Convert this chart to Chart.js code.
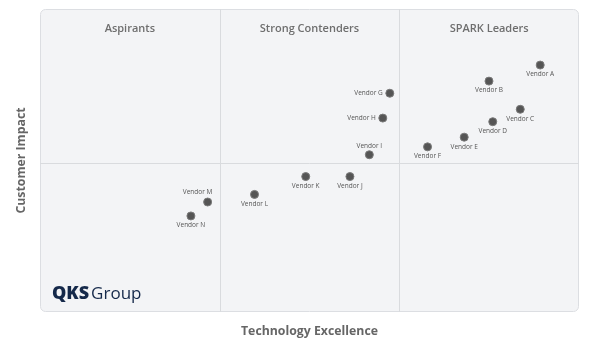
<!DOCTYPE html>
<html>
<head>
<meta charset="utf-8">
<script src="https://cdn.jsdelivr.net/npm/chart.js@4"></script>
<style>
  html, body { margin: 0; padding: 0; background: #ffffff; }
  #wrap { width: 597px; height: 353px; position: relative; }
</style>
</head>
<body>
<div id="wrap"><canvas id="myChart"></canvas></div>
<script>
// Vendor positions (0-100 on both axes)
const vendors = ["Vendor A", "Vendor B", "Vendor C", "Vendor D", "Vendor E", "Vendor F", "Vendor G",
  "Vendor H", "Vendor I", "Vendor J", "Vendor K", "Vendor L", "Vendor M", "Vendor N"];
const techExcellence = [92.8, 83.3, 89.1, 84.0, 78.7, 71.9, 64.9, 63.6, 61.1, 57.5, 49.3, 39.8, 31.1, 28.0];
const customerImpact = [81.5, 76.2, 66.9, 62.8, 57.7, 54.5, 72.2, 64.0, 51.9, 44.7, 44.7, 38.8, 36.3, 31.7];
const quadrants = ["Aspirants", "Strong Contenders", "SPARK Leaders"];
const xSplits = [33.33, 66.67];
const ySplit = 49.2;

// where each label sits relative to its dot
const labelSide = {
  "Vendor G": "left", "Vendor H": "left", "Vendor I": "above", "Vendor M": "aboveLeft"
};

const points = vendors.map((v, i) => ({ x: techExcellence[i], y: customerImpact[i], name: v }));

const FONT = "'Open Sans', sans-serif";

const quadrantPlugin = {
  id: 'quadrant',
  beforeDraw(chart) {
    const { ctx, chartArea: a, scales } = chart;
    ctx.save();
    // panel
    ctx.beginPath();
    ctx.roundRect(a.left + 0.5, a.top + 0.5, a.width - 1, a.height - 1, 5);
    ctx.fillStyle = '#f3f4f6';
    ctx.fill();
    ctx.strokeStyle = '#dcdee2';
    ctx.lineWidth = 1;
    ctx.stroke();
    // dividers
    ctx.strokeStyle = '#d9dbde';
    xSplits.forEach(v => {
      const px = Math.round(scales.x.getPixelForValue(v)) + 0.5;
      ctx.beginPath();
      ctx.moveTo(px, a.top);
      ctx.lineTo(px, a.bottom);
      ctx.stroke();
    });
    const py = Math.round(scales.y.getPixelForValue(ySplit)) + 0.5;
    ctx.beginPath();
    ctx.moveTo(a.left, py);
    ctx.lineTo(a.right, py);
    ctx.stroke();
    // quadrant titles
    ctx.fillStyle = '#6e6e6e';
    ctx.font = `600 11px ${FONT}`;
    ctx.textAlign = 'center';
    ctx.textBaseline = 'middle';
    const bounds = [0, xSplits[0], xSplits[1], 100];
    quadrants.forEach((q, i) => {
      const cx = (scales.x.getPixelForValue(bounds[i]) + scales.x.getPixelForValue(bounds[i + 1])) / 2;
      ctx.fillText(q, cx, a.top + 20);
    });
    // axis titles
    ctx.font = `bold 12.3px ${FONT}`;
    ctx.fillStyle = '#666666';
    ctx.fillText('Technology Excellence', (a.left + a.right) / 2, a.bottom + 19);
    ctx.save();
    ctx.translate(21, (a.top + a.bottom) / 2);
    ctx.rotate(-Math.PI / 2);
    ctx.fillText('Customer Impact', 0, 0);
    ctx.restore();
    // logo
    ctx.textAlign = 'left';
    ctx.textBaseline = 'alphabetic';
    ctx.fillStyle = '#15294a';
    ctx.font = `800 18px ${FONT}`;
    ctx.fillText('QKS', a.left + 12, a.bottom - 13);
    const w = ctx.measureText('QKS').width;
    ctx.font = `17px ${FONT}`;
    ctx.fillText('Group', a.left + 12 + w + 2, a.bottom - 13);
    ctx.restore();
  },
  afterDatasetsDraw(chart) {
    const { ctx } = chart;
    const meta = chart.getDatasetMeta(0);
    ctx.save();
    ctx.font = `6.5px ${FONT}`;
    ctx.fillStyle = '#555555';
    ctx.textBaseline = 'middle';
    meta.data.forEach((el, i) => {
      const name = points[i].name;
      const side = labelSide[name] || 'below';
      let x = el.x, y = el.y;
      ctx.textAlign = 'center';
      if (side === 'below') y += 9.5;
      else if (side === 'above') y -= 9;
      else if (side === 'left') { ctx.textAlign = 'right'; x -= 7; }
      else if (side === 'aboveLeft') { x -= 10; y -= 9.5; }
      ctx.fillText(name, x, y);
    });
    ctx.restore();
  }
};

const ctx = document.getElementById('myChart').getContext('2d');
new Chart(ctx, {
  type: 'scatter',
  data: {
    datasets: [{
      data: points,
      pointRadius: 4,
      pointHoverRadius: 4,
      backgroundColor: '#555555',
      borderColor: '#7a7a7a',
      borderWidth: 1
    }]
  },
  options: {
    responsive: true,
    maintainAspectRatio: false,
    animation: false,
    layout: { padding: { left: 40, right: 18, top: 9, bottom: 41 } },
    scales: {
      x: { display: false, min: 0, max: 100 },
      y: { display: false, min: 0, max: 100 }
    },
    plugins: {
      legend: { display: false },
      tooltip: { enabled: false }
    }
  },
  plugins: [quadrantPlugin]
});
</script>
</body>
</html>
